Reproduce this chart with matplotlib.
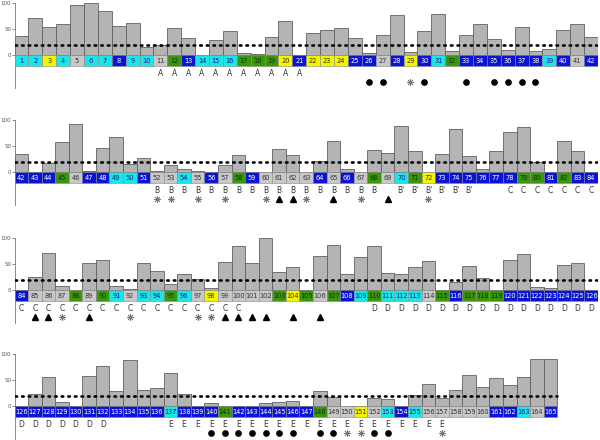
import numpy as np
import matplotlib
matplotlib.use('Agg')
import matplotlib.pyplot as plt

# per-residue values (1..165)
values = [37, 71, 54, 60, 97, 100, 85, 55, 61, 16,
          20, 52, 33, 0, 28, 47, 4, 1, 35, 66,
          0, 43, 49, 51, 33, 3, 39, 77, 6, 47,
          78, 7, 39, 60, 30, 10, 54, 8, 12, 48,
          59, 35, 0, 18, 58, 92, 2, 46, 68, 16,
          27, 2, 13, 6, 1, 0, 14, 33, 0, 0,
          45, 33, 0, 21, 60, 5, 0, 43, 37, 89,
          40, 0, 35, 83, 31, 6, 40, 77, 87, 20,
          0, 60, 40, 0, 25, 72, 8, 0, 51, 57,
          8, 1, 51, 36, 11, 31, 21, 3, 53, 85,
          51, 100, 35, 45, 0, 66, 87, 30, 63, 84,
          33, 30, 44, 55, 0, 15, 47, 24, 0, 58,
          70, 6, 3, 49, 51, 0, 24, 55, 7, 0,
          57, 76, 28, 88, 31, 35, 63, 24, 0, 5,
          0, 0, 0, 5, 7, 9, 0, 28, 18, 0,
          0, 15, 14, 0, 21, 43, 16, 31, 59, 37,
          54, 40, 55, 90, 90]

# residue class codes: c=cyan, y=yellow, g=gray, b=blue, G=green
classes = ("ccycgccbcc" "gGbcccGGGy" "byyybbgbyb" "cGbbbbbbcb"
           "gbbbGgbbcc" "bggcgbgGbg" "gggbgbgGgc" "GybbbbbbGG"
           "bGbbgggGgG" "cgccGcgygg" "ggGyGgGbcG" "cccgGbGGGb"
           "bbbbbbbbbb" "bbbbbbcbbb" "GbbbbbbGgg" "ygcbcggggg"
           "bbcgb")

seg_labels = ['A', 'B', "B'", 'C', 'D', 'E']
seg_start = [11, 52, 70, 78, 110, 137]
seg_end = [21, 68, 75, 100, 132, 157]

circles = [26, 27, 30, 33, 35, 36, 37, 38, 140, 141, 142, 143, 144, 145, 146,
           148, 149, 152, 153]
triangles = [61, 62, 65, 69, 85, 86, 89, 99, 100, 101, 102, 104, 106]
stars = [29, 52, 53, 55, 57, 60, 63, 67, 72, 87, 92, 97, 98, 150, 151, 157]

panels = [(1, 42), (42, 84), (84, 126), (126, 165)]
zero_px = [55, 172, 290, 406]

box_face = {'c': '#19e6e6', 'y': '#f5f500', 'g': '#c8c8c8', 'b': '#0a14d2', 'G': '#3c960a'}
box_text = {'c': '#1a1a9a', 'y': '#333300', 'g': '#333333', 'b': 'white', 'G': '#10300a'}

fig = plt.figure(figsize=(6, 4.4), dpi=100)
W, H = 600.0, 440.0
ylo, yhi = -64, 103
k = 0.52  # px per unit

for (first, last), z in zip(panels, zero_px):
    top = z - yhi * k
    bot = z - ylo * k
    ax = fig.add_axes([14.5 / W, 1 - bot / H, 583.5 / W, (bot - top) / H])
    res = np.arange(first, last + 1)
    vals = np.array([values[r - 1] for r in res])
    ax.bar(res, vals, width=1.0, color='#b4b4b4', edgecolor='#606060', linewidth=0.6, zorder=2)
    cls = [classes[r - 1] for r in res]
    ax.bar(res, 22, bottom=-22, width=1.0, color=[box_face[c] for c in cls],
           edgecolor='#8a8a8a', linewidth=0.4, zorder=3)
    for r, c in zip(res, cls):
        ax.text(r, -11, str(r), ha='center', va='center', fontsize=4.8,
                color=box_text[c], zorder=4)
    ax.hlines(20, first - 0.5, last + 0.5, colors='black', linewidth=1.9,
              linestyles=(0, (0.6, 1.9)), zorder=5, capstyle='round')
    for lab, s, e in zip(seg_labels, seg_start, seg_end):
        for r in range(max(s, first), min(e, last) + 1):
            ax.text(r, -36, lab, ha='center', va='center', fontsize=5.5, color='#333333')
    cx = [r for r in circles if first <= r <= last]
    tx = [r for r in triangles if first <= r <= last]
    sx = [r for r in stars if first <= r <= last]
    ax.plot(cx, [-51] * len(cx), 'o', color='black', markersize=3.8, linestyle='none')
    ax.plot(tx, [-51] * len(tx), '^', color='black', markersize=4.2, linestyle='none')
    ax.plot(sx, [-51] * len(sx), marker=(8, 2, 0), color='#777777', markersize=5,
            markeredgewidth=0.6, linestyle='none')

    if first == 1:
        ax.set_xlim(0.5, 42.5)
    else:
        ax.set_xlim(first - 0.5, first + 42.5)
    ax.set_ylim(ylo, yhi)
    for s in ['top', 'right', 'bottom']:
        ax.spines[s].set_visible(False)
    ax.spines['left'].set_color('#777777')
    ax.spines['left'].set_linewidth(0.6)
    ax.spines['left'].set_bounds(-63, 100)
    ax.set_xticks([])
    ax.set_yticks([0, 50, 100])
    ax.tick_params(axis='y', labelsize=4, labelcolor='#555555', color='#777777',
                   length=2, width=0.6, pad=0.4)
    ax.patch.set_alpha(0)

fig.savefig('out.png', dpi=100)
